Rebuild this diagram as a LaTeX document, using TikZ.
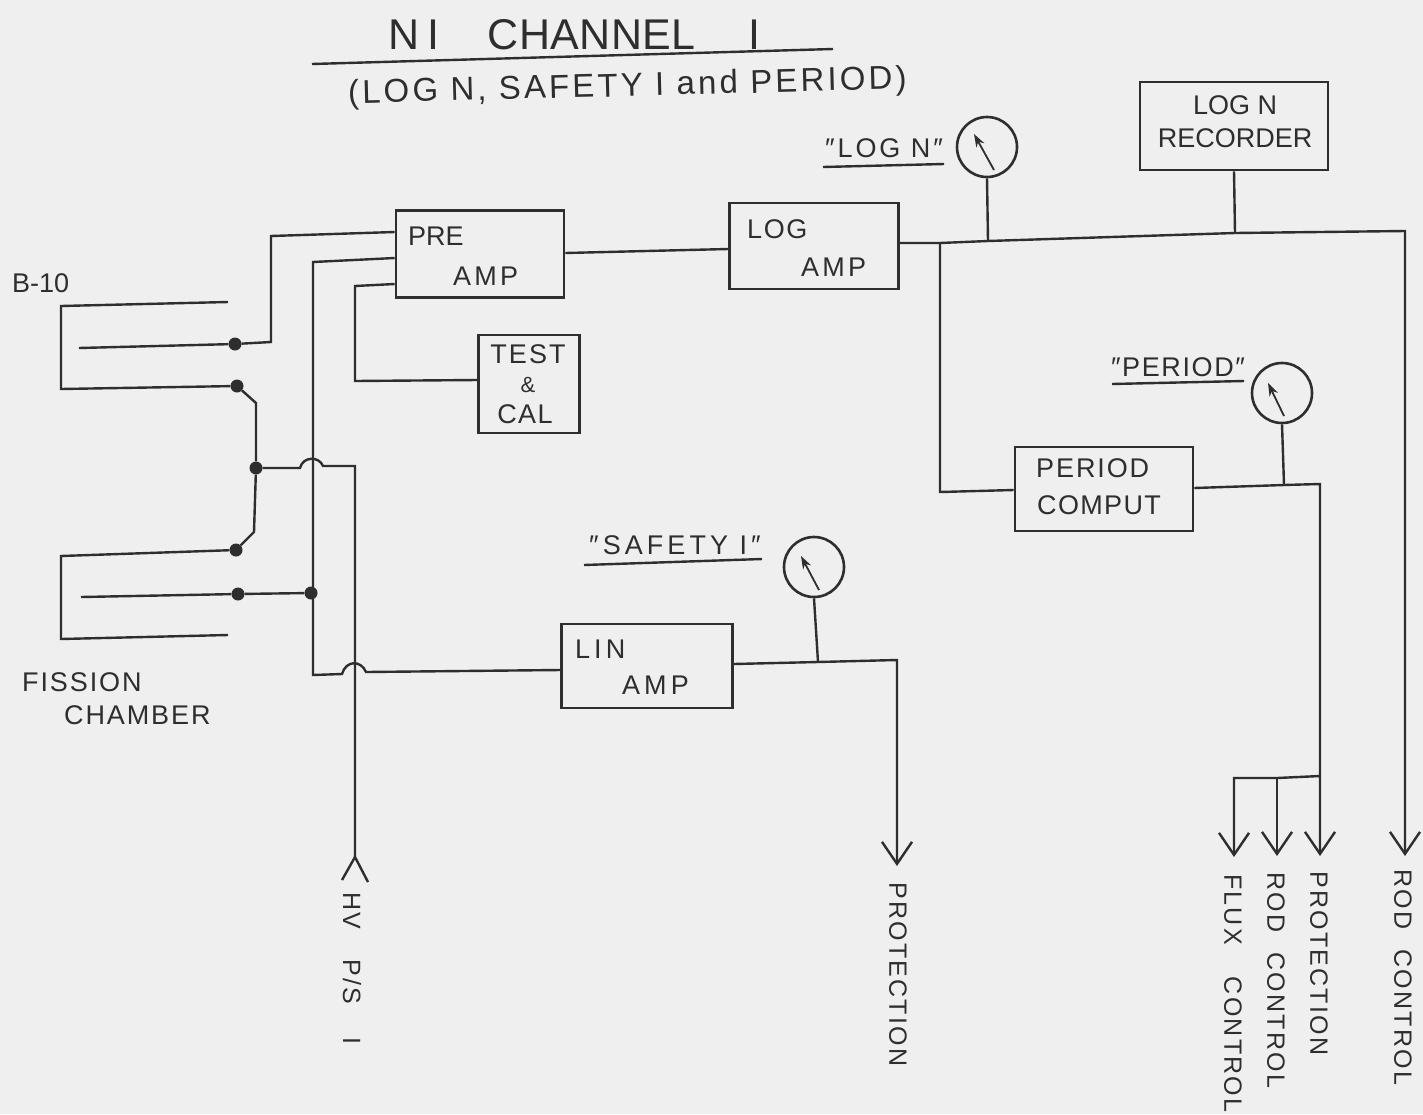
\documentclass[tikz,border=0pt]{standalone}
\usepackage{fontspec}
\setmainfont{Liberation Sans}[Ligatures=ResetAll]
\usetikzlibrary{arrows.meta}
\newcommand\LS[1]{\addfontfeature{LetterSpace=#1}}
\definecolor{paper}{HTML}{EFEFEF}
\definecolor{ink}{HTML}{2E2E2E}
\tikzset{
  wire/.style={draw=ink,line width=2.4pt,line join=miter},
  arrowed/.style={wire,-{Straight Barb[length=22pt,width=30pt,line width=2.4pt]}},
  block/.style={draw=ink,line width=2.6pt,inner sep=0pt},
  meter/.style={circle,draw=ink,line width=2.6pt,inner sep=0pt,minimum size=60pt},
  needle/.style={draw=ink,line width=1.8pt,-{Stealth[length=13pt,width=9pt]}},
  dot/.style={circle,fill=ink,inner sep=0pt,minimum size=13pt},
  lab/.style={text=ink,font=\fontsize{27}{32}\selectfont,inner sep=0pt,align=center},
  vlab/.style={lab,rotate=-90,anchor=west,font=\fontsize{25}{30}\selectfont\LS{9}},
}
\begin{document}
\begin{tikzpicture}[x=1pt,y=-1pt]
\fill[paper] (0,0) rectangle (1423,1114);
\useasboundingbox (0,0) rectangle (1423,1114);
% title
\node[lab,anchor=west,font=\fontsize{43}{50}\selectfont] (title) at (388,35) {{\LS{20}NI}\hspace{48pt}{\LS{1}CHANNEL}\hspace{53pt}I};
\coordinate (tl) at (312,64); \coordinate (tr) at (833,49);
\draw[wire] (tl) -- (tr);
\node[lab,anchor=west,font=\fontsize{33}{40}\selectfont\LS{9.5},rotate=1.5] (sub) at (348,95) {(LOG N, SAFETY I and PERIOD)};
% blocks
\node[block,minimum width=168pt,minimum height=87pt] (pre) at (480,254) {};
\node[block,minimum width=169pt,minimum height=86pt] (log) at (814,246) {};
\node[block,minimum width=188pt,minimum height=88pt] (rec) at (1234,126) {};
\node[block,minimum width=101pt,minimum height=98pt] (test) at (529,384) {};
\node[block,minimum width=178pt,minimum height=84pt] (per) at (1104,489) {};
\node[block,minimum width=171pt,minimum height=84pt] (lin) at (647,666) {};
% block texts
\node[lab,anchor=west] (t1) at (408,236) {PRE};
\node[lab,anchor=west,font=\fontsize{27}{32}\selectfont\LS{12}] (t2) at (453,276) {AMP};
\node[lab,anchor=west,font=\fontsize{27}{32}\selectfont\LS{6}] (t3) at (747,229) {LOG};
\node[lab,anchor=west,font=\fontsize{27}{32}\selectfont\LS{12}] (t4) at (801,267) {AMP};
\node[lab] (t5) at (1235,105) {LOG N};
\node[lab] (t6) at (1235,138) {RECORDER};
\node[lab,font=\fontsize{27}{32}\selectfont\LS{8}] (t7) at (528,354) {TEST};
\node[lab,font=\fontsize{22}{26}\selectfont] (t8) at (528,385) {\&};
\node[lab,font=\fontsize{27}{32}\selectfont\LS{5}] (t9) at (525,414) {CAL};
\node[lab,anchor=west,font=\fontsize{27}{32}\selectfont\LS{7}] (t10) at (1036,468) {PERIOD};
\node[lab,anchor=west,font=\fontsize{27}{32}\selectfont\LS{5}] (t11) at (1037,505) {COMPUT};
\node[lab,anchor=west,font=\fontsize{27}{32}\selectfont\LS{15}] (t12) at (575,649) {LIN};
\node[lab,anchor=west,font=\fontsize{27}{32}\selectfont\LS{15}] (t13) at (622,685) {AMP};
% free labels
\node[lab,anchor=west] (b10) at (12,283) {B-10};
\node[lab,anchor=west,font=\fontsize{27}{32}\selectfont\LS{7}] (fis) at (22,682) {FISSION};
\node[lab,anchor=west,font=\fontsize{27}{32}\selectfont\LS{7}] (cha) at (64,715) {CHAMBER};
\node[lab,font=\fontsize{27}{32}\selectfont\LS{11}] (lgn) at (884,148) {″LOG N″};
\node[lab,font=\fontsize{27}{32}\selectfont\LS{6}] (prd) at (1178,367) {″PERIOD″};
\node[lab,font=\fontsize{27}{32}\selectfont\LS{15}] (saf) at (675,545) {″SAFETY I″};
\coordinate (lgn1) at (823,167); \coordinate (lgn2) at (944,164);
\draw[wire] (lgn1) -- (lgn2);
\coordinate (prd1) at (1112,384); \coordinate (prd2) at (1244,381);
\draw[wire] (prd1) -- (prd2);
\coordinate (saf1) at (584,565); \coordinate (saf2) at (762,559);
\draw[wire] (saf1) -- (saf2);
% detectors
\coordinate (a1) at (228,302); \coordinate (a2) at (61,306); \coordinate (a3) at (61,389);
\coordinate (a4) at (79,348);
\coordinate (c1) at (228,635); \coordinate (c2) at (61,639); \coordinate (c3) at (61,556);
\coordinate (c4) at (81,597);
\node[dot] (j1) at (235,344) {};
\node[dot] (j2) at (237,386) {};
\node[dot] (j3) at (256,468) {};
\node[dot] (j4) at (236,550) {};
\node[dot] (j5) at (238,594) {};
\node[dot] (j6) at (311,593) {};
\draw[wire] (a1) -- (a2) -- (a3) -- (j2);
\draw[wire] (a4) -- (j1);
\draw[wire] (c1) -- (c2) -- (c3) -- (j4);
\draw[wire] (c4) -- (j5) -- (j6);
\draw[wire] (j2) -- (256,403) -- (j3) -- (254,532) -- (j4);
% wiring
\coordinate (hvtop) at (313,262);
\coordinate (hvbot) at (313,675);
\draw[wire] (j1) -- (271,342) -- (271,236) -- (pre.west|-0,232);
\draw[wire] (pre.west|-0,258) -- (hvtop) -- (hvbot) -- (342,674)
  .. controls (346,660) and (361,660) .. (366,672) -- (lin.west|-0,670);
\draw[wire] (pre.west|-0,284) -- (355,286) -- (355,381) -- (test.west|-0,380);
\coordinate (hvend) at (355,857);
\draw[wire] (j3) -- (300,468)
  .. controls (303,456) and (319,456) .. (323,466) -- (355,466) -- (hvend);
\coordinate (hvl) at (342,880); \coordinate (hvr) at (368,882);
\draw[wire] (hvl) -- (hvend) -- (hvr);
\draw[wire] (pre.east|-0,253) -- (log.west|-0,249);
% log bus
\coordinate (busm) at (988,241); \coordinate (busr) at (1235,233);
\coordinate (bus1) at (940,243); \coordinate (busend) at (1405,231);
\draw[arrowed] (log.east|-0,243) -- (bus1) -- (busm) -- (busr) -- (busend) -- (1405,856);
\node[meter] (m1) at (987,147) {};
\draw[wire] (m1.south) -- (busm);
\draw[wire] (rec.south) -- (busr);
\draw[needle] (994,170) -- (974,134);
\draw[wire] (bus1) -- (940,492) -- (per.west|-0,490);
% period
\node[meter] (m2) at (1282,393) {};
\draw[needle] (1284,416) -- (1268,383);
\coordinate (pm) at (1284,485); \coordinate (pr) at (1320,484); \coordinate (pd) at (1320,776);
\draw[arrowed] (per.east|-0,488) -- (pm) -- (pr) -- (pd) -- (1320,856);
\draw[wire] (m2.south) -- (pm);
\coordinate (pc) at (1277,778);
\draw[arrowed] (pd) -- (pc) -- (1234,778) -- (1234,857);
\draw[arrowed] (pc) -- (1277,856);
% safety
\node[meter] (m3) at (814,567) {};
\draw[needle] (819,590) -- (801,556);
\coordinate (sm) at (818,662);
\draw[arrowed] (lin.east|-0,664) -- (sm) -- (897,660) -- (897,866);
\draw[wire] (m3.south) -- (sm);
% rotated labels
\node[vlab] (v1) at (352,892) {HV\hspace{30pt}P/S\hspace{34pt}I};
\node[vlab] (v2) at (898,882) {PROTECTION};
\node[vlab] (v3) at (1233,874) {FLUX\hspace{32pt}CONTROL};
\node[vlab] (v4) at (1276,872) {ROD\hspace{20pt}CONTROL};
\node[vlab] (v5) at (1319,871) {PROTECTION};
\node[vlab] (v6) at (1403,869) {ROD\hspace{20pt}CONTROL};
\end{tikzpicture}
\end{document}
